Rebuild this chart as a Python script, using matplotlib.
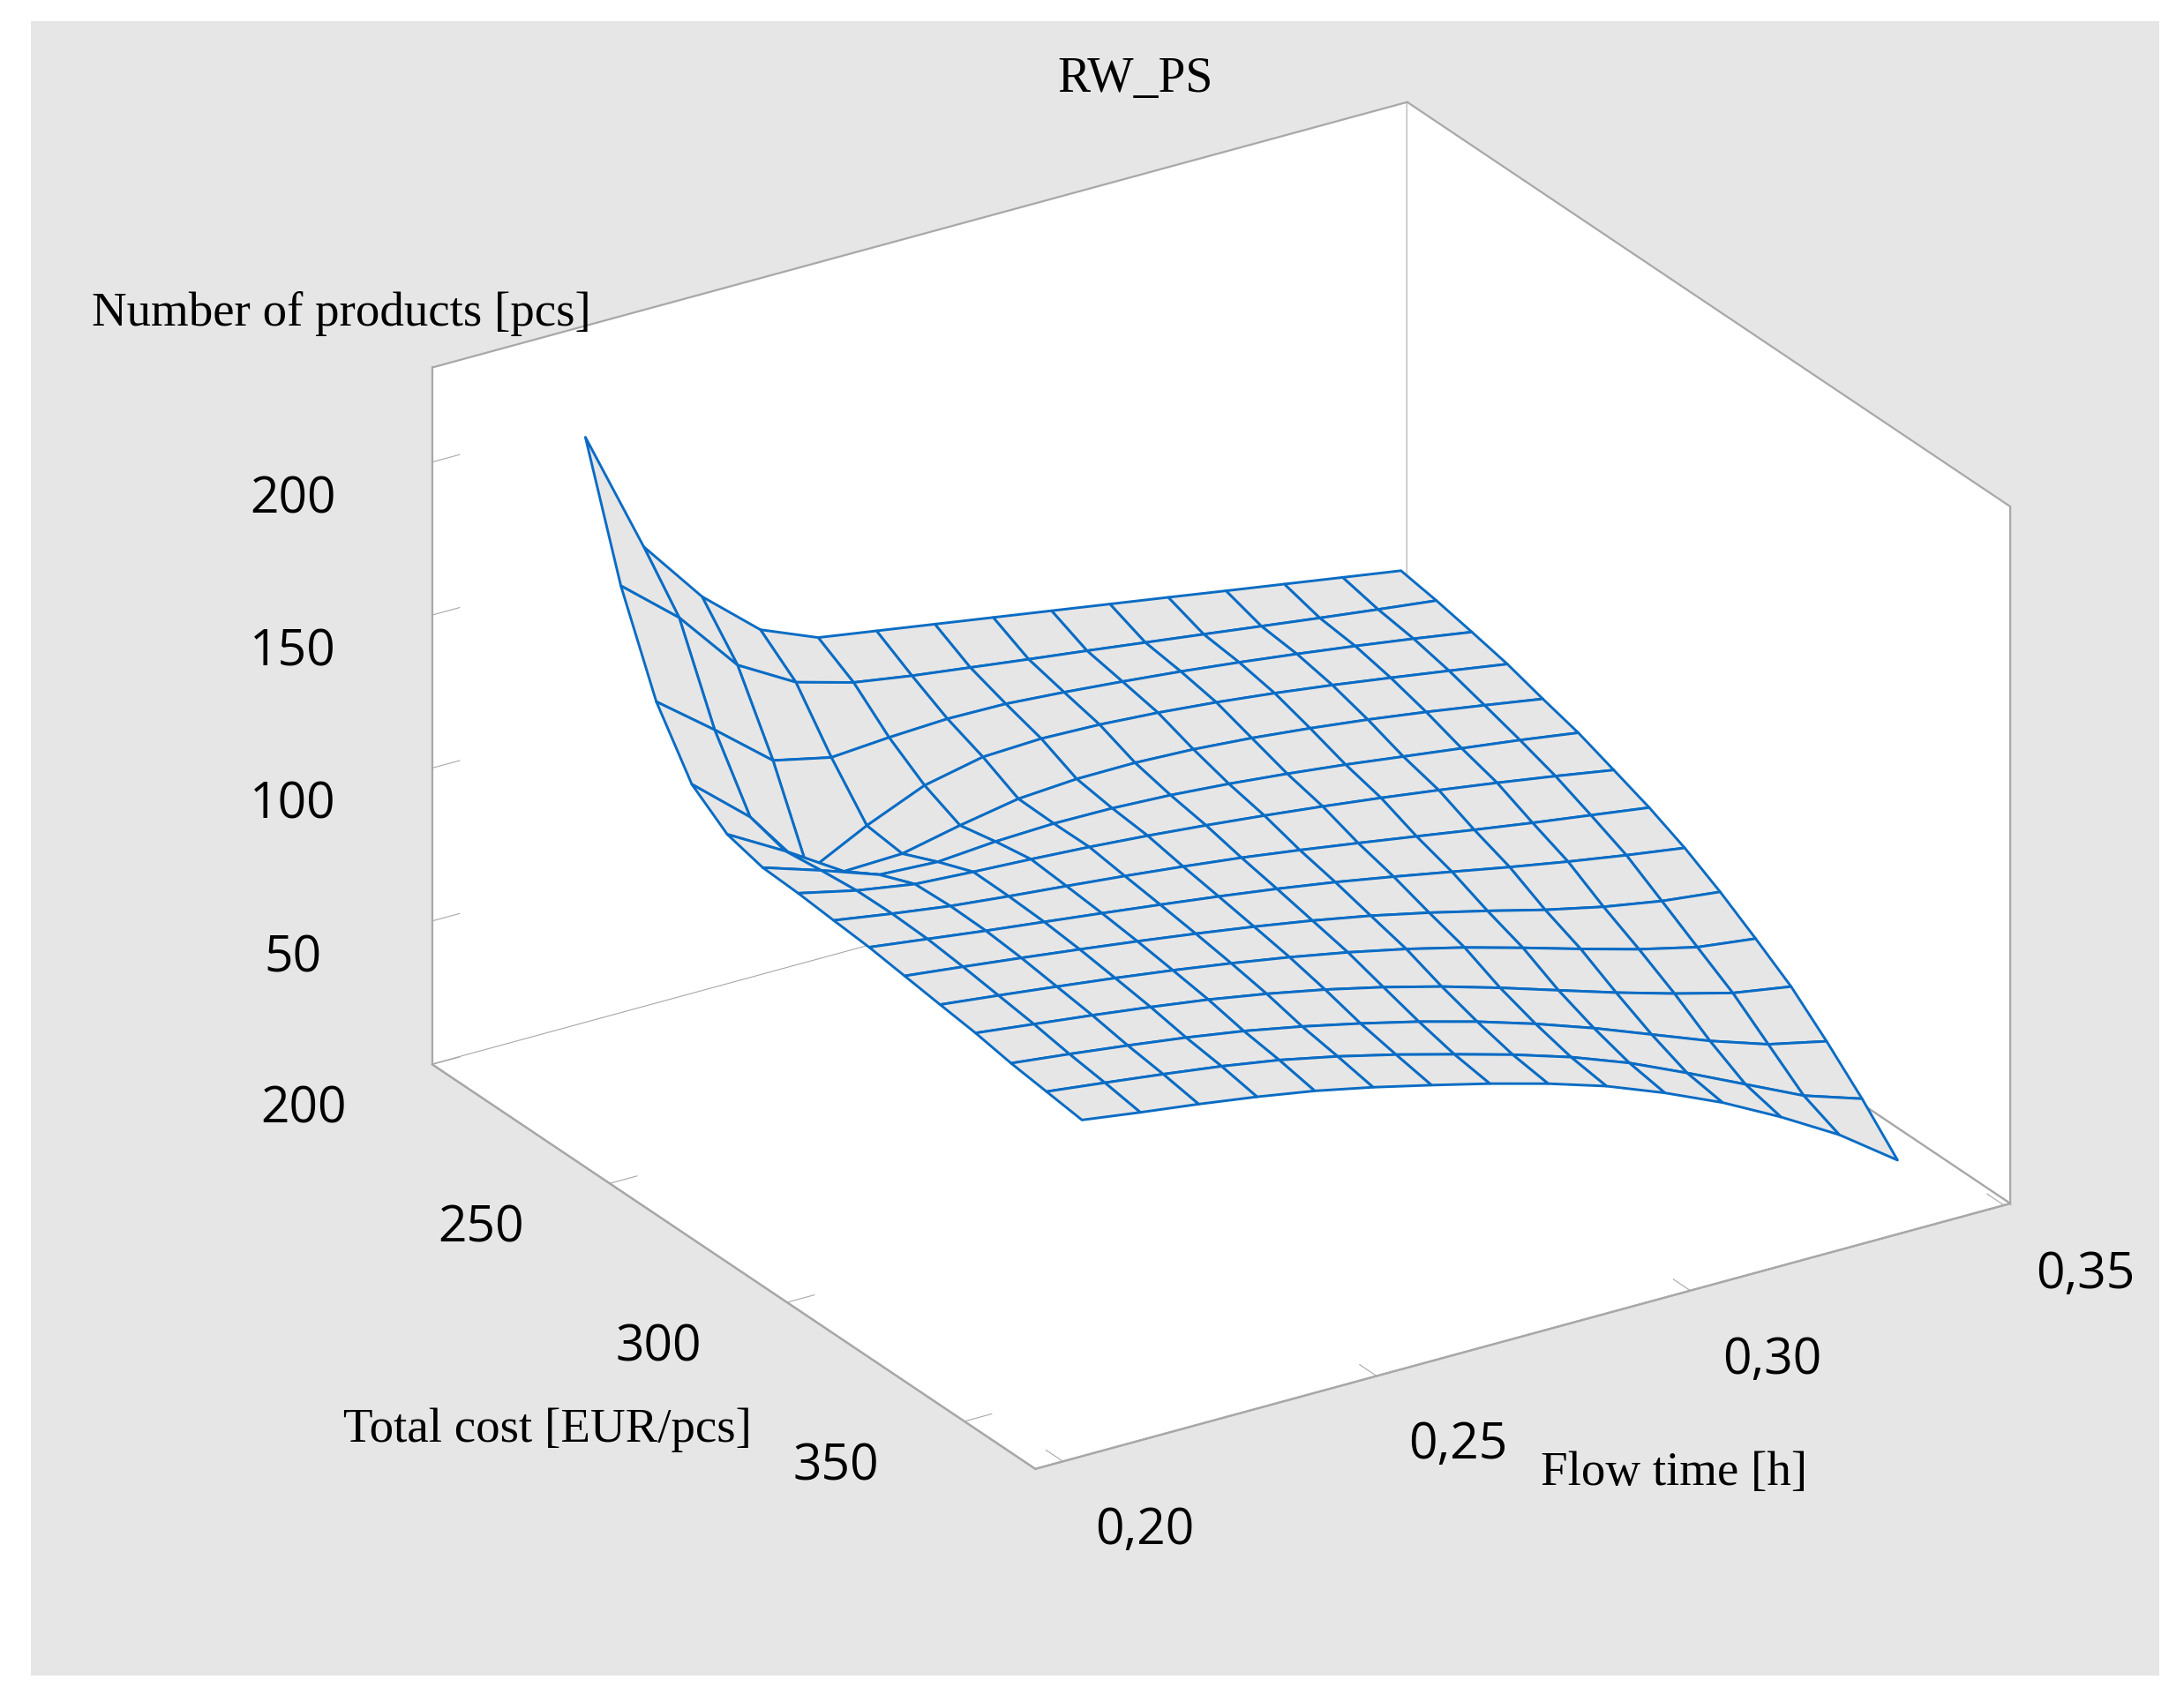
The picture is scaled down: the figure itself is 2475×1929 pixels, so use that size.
import numpy as np
import matplotlib
matplotlib.use("Agg")
import matplotlib.pyplot as plt
from matplotlib.patches import Rectangle
from matplotlib.ticker import NullFormatter
from mpl_toolkits.mplot3d import proj3d

# grid of the fitted surface
cost = [200, 210, 220, 230, 240, 250, 260, 270, 280, 290, 300, 310, 320, 330, 340]
flow_time = [0.2200, 0.2293, 0.2386, 0.2479, 0.2571, 0.2664, 0.2757, 0.2850,
             0.2943, 0.3036, 0.3129, 0.3221, 0.3314, 0.3407, 0.3500]

# number of products, one row per cost value, one column per flow time value
products = [
    [194.5, 153.5, 132.0, 116.0, 108.3, 105.3, 102.3, 99.3, 96.3, 93.3, 90.3, 87.3, 84.3, 81.3, 78.3],
    [153.7, 138.1, 117.4, 106.6, 101.4, 98.4, 95.9, 93.4, 91.0, 88.5, 86.0, 83.5, 81.0, 78.6, 76.3],
    [123.6, 109.2, 94.0, 89.8, 91.2, 92.1, 91.8, 90.4, 88.7, 86.8, 84.6, 82.2, 79.6, 76.8, 73.8],
    [104.4, 88.5, 65.6, 75.3, 83.3, 87.4, 88.2, 87.6, 86.3, 84.5, 82.3, 79.8, 77.0, 74.1, 71.1],
    [95.8, 85.1, 73.3, 73.9, 78.0, 81.5, 82.8, 82.9, 82.1, 80.6, 78.6, 76.3, 73.6, 70.6, 67.5],
    [92.7, 86.6, 80.0, 79.0, 80.5, 81.2, 81.0, 80.1, 78.6, 76.7, 74.5, 72.0, 69.5, 67.0, 64.2],
    [92.1, 87.8, 84.7, 83.5, 82.5, 81.3, 79.8, 78.0, 76.0, 73.8, 71.4, 68.8, 66.0, 63.0, 59.8],
    [91.0, 88.0, 85.3, 83.3, 81.5, 79.6, 77.5, 75.2, 72.5, 69.6, 66.6, 63.6, 60.7, 58.0, 55.3],
    [90.0, 87.5, 85.0, 82.7, 80.4, 78.0, 75.5, 72.8, 69.8, 66.4, 62.8, 59.2, 55.8, 52.7, 49.9],
    [88.4, 86.2, 83.9, 81.5, 79.0, 76.3, 73.4, 70.2, 66.6, 62.4, 57.8, 53.0, 48.8, 45.5, 43.3],
    [86.8, 84.6, 82.3, 79.9, 77.3, 74.4, 71.2, 67.6, 63.5, 58.8, 53.5, 48.0, 42.7, 38.2, 35.8],
    [85.3, 83.0, 80.7, 78.2, 75.5, 72.2, 68.4, 64.0, 59.0, 53.4, 47.4, 41.5, 36.0, 31.0, 27.9],
    [83.2, 81.0, 78.6, 76.0, 73.0, 69.3, 65.1, 60.5, 55.3, 49.4, 42.8, 35.6, 28.3, 22.0, 17.8],
    [81.7, 79.4, 77.0, 74.4, 71.3, 67.3, 62.7, 57.6, 52.3, 46.3, 39.2, 30.8, 21.9, 13.0, 6.8],
    [80.2, 77.5, 75.0, 72.2, 69.0, 65.0, 60.5, 55.8, 50.6, 44.6, 37.2, 28.9, 19.0, 8.0, -5.5],
]

cost_ticks = [200, 250, 300, 350]
time_ticks = [0.20, 0.25, 0.30, 0.35]
time_labels = ["0,20", "0,25", "0,30", "0,35"]
prod_ticks = [50, 100, 150, 200]

cost_lim = (200, 370)
time_lim = (0.1956, 0.351)
prod_lim = (3.1, 230.9)

W, H = 2475, 1929
fig = plt.figure(figsize=(W / 100, H / 100), dpi=100, facecolor="white")
fig.patches.append(Rectangle((0.014, 0.0155), 0.9745, 0.972, transform=fig.transFigure,
                             facecolor="#e6e6e6", edgecolor="none", zorder=-10))

ax = fig.add_axes([0.1, 0.1, 0.8, 0.8], projection="3d", proj_type="ortho")
ax.set_facecolor((0, 0, 0, 0))
ax.patch.set_alpha(0)

C, T = np.meshgrid(cost, flow_time, indexing="ij")
Z = np.array(products)
ax.plot_surface(C, T, Z, rstride=1, cstride=1, color="#e6e6e6", edgecolor="#0a6cc4",
                linewidth=2.1, shade=False, antialiased=True)

ax.set_xlim(*cost_lim)
ax.set_ylim(*time_lim)
ax.set_zlim(*prod_lim)
ax.view_init(elev=25.3, azim=-32.5)
ax.set_box_aspect((1.0, 1.03, 0.687))
ax.grid(False)

ax.set_xticks(cost_ticks)
ax.set_yticks(time_ticks)
ax.set_zticks(prod_ticks)
ax.tick_params(axis="both", which="major", colors="#a8a8a8", width=1.6)

for axis in (ax.xaxis, ax.yaxis, ax.zaxis):
    axis.set_pane_color((1, 1, 1, 1))
    axis.pane.set_edgecolor("#a8a8a8")
    axis.pane.set_linewidth(1.6)
    axis.line.set_color("#a8a8a8")
    axis.line.set_linewidth(1.6)
    axis._axinfo["tick"]["inward_factor"] = 0.0
    axis._axinfo["tick"]["outward_factor"] = 0.35
    # tick labels are written below as plain figure text
    axis.set_major_formatter(NullFormatter())
    axis.set_tick_params(label1On=False, label2On=False)
    axis.label.set_visible(False)
    axis.offsetText.set_visible(False)

# place the box where it sits in the reference (figure pixels, origin bottom-left)
target = np.array([[494, 722], [1176, 264], [2280, 564], [1586, 1815]], float)
corners = np.array([[cost_lim[0], time_lim[0], prod_lim[0]],
                    [cost_lim[1], time_lim[0], prod_lim[0]],
                    [cost_lim[1], time_lim[1], prod_lim[0]],
                    [cost_lim[0], time_lim[1], prod_lim[1]]])


def to_pixels(xs, ys, zs):
    px, py, _ = proj3d.proj_transform(np.asarray(xs, float), np.asarray(ys, float),
                                      np.asarray(zs, float), ax.get_proj())
    return ax.transData.transform(np.column_stack([px, py]))


side, cx, cy = 1500.0, 0.56 * W, 0.54 * H
for _ in range(4):
    ax.set_position([(cx - side / 2) / W, (cy - side / 2) / H, side / W, side / H])
    fig.canvas.draw()
    P = to_pixels(corners[:, 0], corners[:, 1], corners[:, 2])
    s = ((target[2, 0] - target[0, 0]) / (P[2, 0] - P[0, 0])
         + (target[3, 1] - target[1, 1]) / (P[3, 1] - P[1, 1])) / 2
    c = np.array([cx, cy])
    c = np.mean(target - s * (P - c), axis=0)
    side *= s
    cx, cy = c

# put the vertical axis on the left edge of the box
best = None
for pos in ("lower", "upper"):
    ax.zaxis.set_ticks_position(pos)
    fig.canvas.draw()
    xs = np.mean(ax.zaxis.line.get_xdata())
    if best is None or xs < best[1]:
        best = (pos, xs)
ax.zaxis.set_ticks_position(best[0])
fig.canvas.draw()

# tick labels, offset along the tick direction as in the reference
tick_font = dict(family="Open Sans", fontsize=41, ha="center", va="center")
n = len(cost_ticks)
pos = to_pixels(cost_ticks, [time_lim[0] - 0.0205] * n, [prod_lim[0] - 3.5] * n)
for (x, y), c_val in zip(pos, cost_ticks):
    fig.text(x / W, y / H, str(c_val), **tick_font)
n = len(time_ticks)
pos = to_pixels([cost_lim[1] + 23.0] * n, time_ticks, [prod_lim[0] - 5.0] * n)
for (x, y), lab in zip(pos, time_labels):
    fig.text(x / W, y / H, lab, **tick_font)
n = len(prod_ticks)
pos = to_pixels([cost_lim[0]] * n, [time_lim[0] - 0.0222] * n, prod_ticks)
for (x, y), z_val in zip(pos, prod_ticks):
    fig.text(x / W, y / H, str(z_val), **tick_font)

serif = "Liberation Serif"
fig.text(0.5198, 0.9534, "RW_PS", family=serif, fontsize=40, ha="center", va="center")
fig.text(0.1563, 0.8159, "Number of products [pcs]", family=serif, fontsize=39.5, ha="center", va="center")
fig.text(0.2506, 0.1596, "Total cost [EUR/pcs]", family=serif, fontsize=39.5, ha="center", va="center")
fig.text(0.7666, 0.1342, "Flow time [h]", family=serif, fontsize=39.5, ha="center", va="center")

fig.savefig("out.png", dpi=100, facecolor="white")
